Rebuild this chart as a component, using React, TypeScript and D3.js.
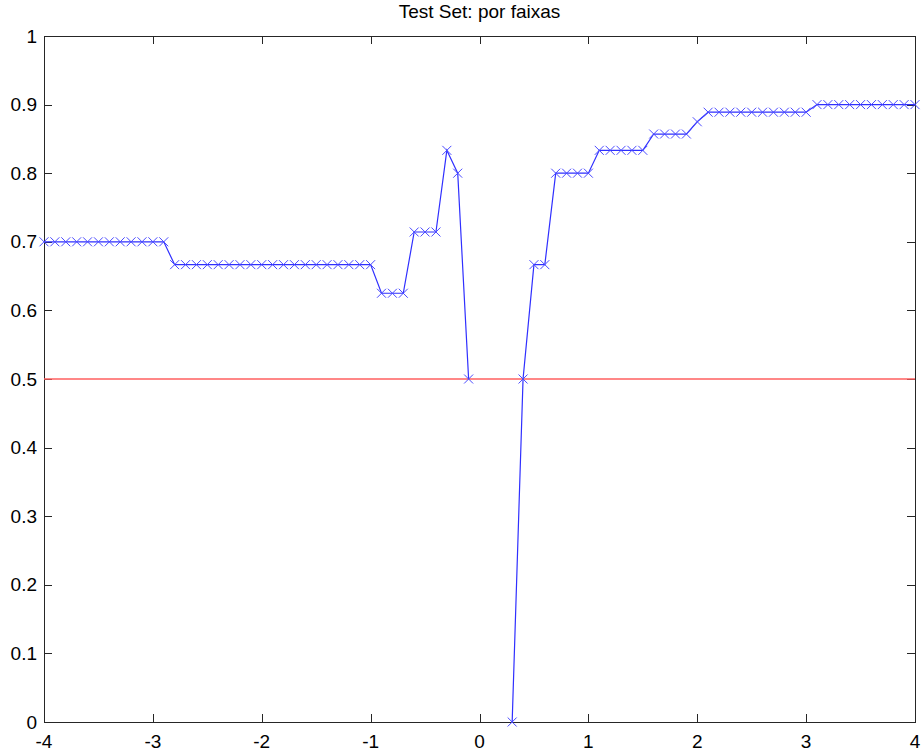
import React, { useEffect, useRef } from "react";
import * as d3 from "d3";

const xValues: number[] = [
  -4.0, -3.9, -3.8, -3.7, -3.6, -3.5, -3.4, -3.3, -3.2, -3.1, -3.0, -2.9,
  -2.8, -2.7, -2.6, -2.5, -2.4, -2.3, -2.2, -2.1, -2.0, -1.9, -1.8, -1.7,
  -1.6, -1.5, -1.4, -1.3, -1.2, -1.1, -1.0, -0.9, -0.8, -0.7, -0.6, -0.5,
  -0.4, -0.3, -0.2, -0.1, 0.0, 0.1, 0.2, 0.3, 0.4, 0.5, 0.6, 0.7, 0.8, 0.9,
  1.0, 1.1, 1.2, 1.3, 1.4, 1.5, 1.6, 1.7, 1.8, 1.9, 2.0, 2.1, 2.2, 2.3, 2.4,
  2.5, 2.6, 2.7, 2.8, 2.9, 3.0, 3.1, 3.2, 3.3, 3.4, 3.5, 3.6, 3.7, 3.8, 3.9,
  4.0,
];

const yValues: (number | null)[] = [
  0.7, 0.7, 0.7, 0.7, 0.7, 0.7, 0.7, 0.7, 0.7, 0.7, 0.7, 0.7,
  0.6667, 0.6667, 0.6667, 0.6667, 0.6667, 0.6667, 0.6667, 0.6667, 0.6667, 0.6667,
  0.6667, 0.6667, 0.6667, 0.6667, 0.6667, 0.6667, 0.6667, 0.6667, 0.6667,
  0.625, 0.625, 0.625,
  0.7143, 0.7143, 0.7143,
  0.8333, 0.8, 0.5,
  null, null, null,
  0, 0.5, 0.6667, 0.6667,
  0.8, 0.8, 0.8, 0.8,
  0.8333, 0.8333, 0.8333, 0.8333, 0.8333,
  0.8571, 0.8571, 0.8571, 0.8571,
  0.875,
  0.8889, 0.8889, 0.8889, 0.8889, 0.8889, 0.8889, 0.8889, 0.8889, 0.8889, 0.8889,
  0.9, 0.9, 0.9, 0.9, 0.9, 0.9, 0.9, 0.9, 0.9, 0.9,
];

const xTicks = [-4, -3, -2, -1, 0, 1, 2, 3, 4];
const yTicks = [0, 0.1, 0.2, 0.3, 0.4, 0.5, 0.6, 0.7, 0.8, 0.9, 1];
const threshold = 0.5;
const title = "Test Set: por faixas";

const W = 921;
const H = 751;

const App: React.FC = () => {
  const svgRef = useRef<SVGSVGElement>(null);

  useEffect(() => {
    if (!svgRef.current) return;
    const svg = d3.select(svgRef.current);
    svg.selectAll("*").remove();

    const margin = { top: 36, right: 6, bottom: 29, left: 44 };
    const width = W - margin.left - margin.right;
    const h = H - margin.top - margin.bottom;

    const g = svg.append("g").attr("transform", `translate(${margin.left},${margin.top})`);

    const x = d3.scaleLinear().domain([-4, 4]).range([0, width]);
    const y = d3.scaleLinear().domain([0, 1]).range([h, 0]);

    const font = "Arial, 'Liberation Sans', sans-serif";
    const fontSize = 19;
    const axisColor = "#262626";
    const tickLen = 8;

    // Box
    g.append("rect")
      .attr("x", 0.5).attr("y", 0.5)
      .attr("width", width).attr("height", h)
      .attr("fill", "none").attr("stroke", axisColor).attr("stroke-width", 1);

    // X ticks (bottom & top, inward)
    xTicks.forEach(t => {
      const px = Math.round(x(t)) + 0.5;
      g.append("line").attr("x1", px).attr("x2", px).attr("y1", h).attr("y2", h - tickLen)
        .attr("stroke", axisColor);
      g.append("line").attr("x1", px).attr("x2", px).attr("y1", 0).attr("y2", tickLen)
        .attr("stroke", axisColor);
      g.append("text").attr("x", x(t)).attr("y", h + 26)
        .attr("text-anchor", "middle").attr("font-family", font).attr("font-size", fontSize)
        .attr("fill", "#000").text(String(t));
    });

    // Y ticks (left & right, inward)
    yTicks.forEach(t => {
      const py = Math.round(y(t)) + 0.5;
      g.append("line").attr("x1", 0).attr("x2", tickLen).attr("y1", py).attr("y2", py)
        .attr("stroke", axisColor);
      g.append("line").attr("x1", width).attr("x2", width - tickLen).attr("y1", py).attr("y2", py)
        .attr("stroke", axisColor);
      g.append("text").attr("x", -7).attr("y", y(t) + 6.5)
        .attr("text-anchor", "end").attr("font-family", font).attr("font-size", fontSize)
        .attr("fill", "#000").text(d3.format("~g")(t));
    });

    // Threshold line
    g.append("line")
      .attr("x1", 0).attr("x2", width)
      .attr("y1", y(threshold)).attr("y2", y(threshold))
      .attr("stroke", "#ff5f5f").attr("stroke-width", 1.3);

    const data = xValues.map((xv, i) => ({ x: xv, y: yValues[i] }));

    const line = d3.line<{ x: number; y: number | null }>()
      .defined(d => d.y !== null)
      .x(d => x(d.x))
      .y(d => y(d.y as number));

    g.append("path")
      .datum(data)
      .attr("d", line)
      .attr("fill", "none")
      .attr("stroke", "#2f2fff")
      .attr("stroke-width", 1.2);

    // x markers
    const m = 4.5;
    const pts = data.filter(d => d.y !== null);
    g.selectAll(".mk")
      .data(pts)
      .enter()
      .append("path")
      .attr("class", "mk")
      .attr("d", d => {
        const cx = x(d.x), cy = y(d.y as number);
        return `M${cx - m},${cy - m}L${cx + m},${cy + m}M${cx - m},${cy + m}L${cx + m},${cy - m}`;
      })
      .attr("fill", "none")
      .attr("stroke", "#4a4aff")
      .attr("stroke-width", 1);

    // Title
    svg.append("text")
      .attr("x", margin.left + width / 2)
      .attr("y", 18)
      .attr("text-anchor", "middle")
      .attr("font-family", font)
      .attr("font-size", fontSize)
      .attr("fill", "#000")
      .text(title);
  }, []);

  return (
    <svg
      ref={svgRef}
      width={W}
      height={H}
      style={{ position: "absolute", left: 0, top: 0, background: "#fff" }}
    />
  );
};

export default App;
